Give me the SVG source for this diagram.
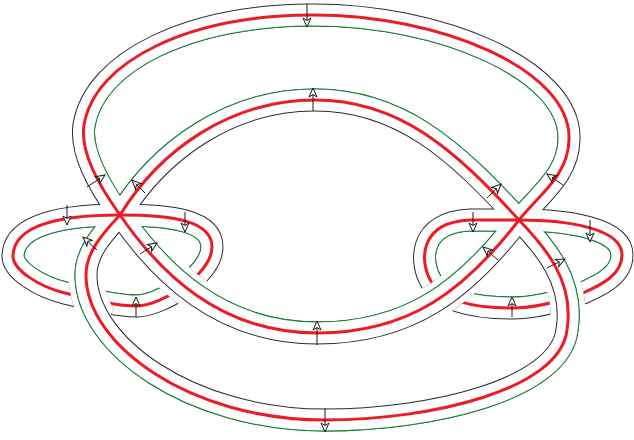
<svg xmlns="http://www.w3.org/2000/svg" width="634" height="440" viewBox="0 0 634 440">
<style>
.k{fill:none;stroke:#2b2b2b;stroke-width:23;stroke-linejoin:round}
.g{fill:none;stroke:#12893a;stroke-width:23;stroke-linejoin:round}
.w{fill:none;stroke:#fff;stroke-width:21;stroke-linejoin:round}
.r{fill:none;stroke:#ec1c24;stroke-width:3;stroke-linejoin:round}
.gap{fill:none;stroke:#000;stroke-width:35}
.ar{fill:none;stroke:#1a1a1a;stroke-width:1;marker-end:url(#ah)}
</style>
<defs>
<path id="pA" d="M120,215 C98,184 80,152 84,125 C95,60 190,16 310,15 C440,14 572,70 569,140 C568,175 541,193 519,220 C465,290 410,333 317,333 C220,333 160,273 120,215 Z"/>
<path id="pB" d="M120,215 C160,150 230,100 315,100 C400,100 455,150 519,220 C543,245 575,280 567,330 C560,390 430,420 325,420 C190,420 86,345 86,275 C86,255 98,238 120,215 Z"/>
<path id="pC" d="M120,215 C70,215 15,222 13,255 C12,270 40,287 65,293 C90,299 115,306 137,306 C160,306 212,275 212,247 C212,220 170,215 120,215 Z"/>
<path id="pD" d="M519,220 C566,220 622,228 622,255 C622,275 601,285 583,293 C561,301 535,308 512,308 C480,308 445,303 432,283 C419,263 418,222 470,220 C490,220 505,220 519,220 Z"/>
<clipPath id="inA"><use href="#pA"/></clipPath>
<clipPath id="outB"><path clip-rule="evenodd" d="M-20,-20 H660 V460 H-20 Z M120,215 C160,150 230,100 315,100 C400,100 455,150 519,220 C543,245 575,280 567,330 C560,390 430,420 325,420 C190,420 86,345 86,275 C86,255 98,238 120,215 Z"/></clipPath>
<clipPath id="inC"><use href="#pC"/></clipPath>
<clipPath id="inD"><use href="#pD"/></clipPath>
<clipPath id="x1"><circle cx="86" cy="298" r="30"/></clipPath>
<clipPath id="x2"><circle cx="184" cy="286" r="30"/></clipPath>
<clipPath id="x3"><circle cx="446" cy="292" r="30"/></clipPath>
<clipPath id="x4"><circle cx="565" cy="297" r="30"/></clipPath>
<mask id="mC" maskUnits="userSpaceOnUse" x="-20" y="-20" width="680" height="480">
<rect x="-20" y="-20" width="680" height="480" fill="#fff"/>
<g clip-path="url(#x1)"><use href="#pB" class="gap"/></g>
<g clip-path="url(#x2)"><use href="#pA" class="gap"/></g>
</mask>
<mask id="mD" maskUnits="userSpaceOnUse" x="-20" y="-20" width="680" height="480">
<rect x="-20" y="-20" width="680" height="480" fill="#fff"/>
<g clip-path="url(#x3)"><use href="#pA" class="gap"/></g>
<g clip-path="url(#x4)"><use href="#pB" class="gap"/></g>
</mask>
<marker id="ah" markerUnits="userSpaceOnUse" markerWidth="11" markerHeight="10" viewBox="-1 -1 11 10" refX="9" refY="4" orient="auto">
<path d="M0,0 L9,4 L0,8 L2.5,4 Z" fill="#fff" stroke="#1a1a1a" stroke-width="1" stroke-linejoin="miter"/>
</marker>
</defs>

<g id="edges">
<use href="#pA" class="k"/><use href="#pA" class="g" clip-path="url(#inA)"/>
<use href="#pB" class="k"/><use href="#pB" class="g" clip-path="url(#outB)"/>
<g mask="url(#mC)"><use href="#pC" class="k"/><use href="#pC" class="g" clip-path="url(#inC)"/></g>
<g mask="url(#mD)"><use href="#pD" class="k"/><use href="#pD" class="g" clip-path="url(#inD)"/></g>
</g>
<g id="bands">
<use href="#pA" class="w"/><use href="#pB" class="w"/>
<use href="#pC" class="w" mask="url(#mC)"/><use href="#pD" class="w" mask="url(#mD)"/>
</g>
<g id="cores">
<use href="#pA" class="r"/><use href="#pB" class="r"/>
<use href="#pC" class="r" mask="url(#mC)"/><use href="#pD" class="r" mask="url(#mD)"/>
</g>
<g id="arrows">
<line class="ar" x1="307" y1="4" x2="307" y2="27"/>
<line class="ar" x1="313" y1="111" x2="313" y2="88"/>
<line class="ar" x1="317" y1="345" x2="317" y2="321"/>
<line class="ar" x1="325" y1="408" x2="325" y2="432"/>
<line class="ar" x1="87" y1="187" x2="105" y2="175"/>
<line class="ar" x1="145" y1="193" x2="132" y2="180"/>
<line class="ar" x1="67" y1="205" x2="67" y2="225"/>
<line class="ar" x1="185" y1="212" x2="185" y2="232"/>
<line class="ar" x1="97" y1="250" x2="83" y2="237"/>
<line class="ar" x1="140" y1="254" x2="157" y2="243"/>
<line class="ar" x1="136" y1="317" x2="136" y2="297"/>
<line class="ar" x1="487" y1="198" x2="501" y2="184"/>
<line class="ar" x1="563" y1="185" x2="547" y2="174"/>
<line class="ar" x1="473" y1="212" x2="473" y2="232"/>
<line class="ar" x1="498" y1="260" x2="483" y2="247"/>
<line class="ar" x1="547" y1="268" x2="565" y2="259"/>
<line class="ar" x1="590" y1="220" x2="590" y2="242"/>
<line class="ar" x1="512" y1="317" x2="512" y2="297"/>
</g>
</svg>
